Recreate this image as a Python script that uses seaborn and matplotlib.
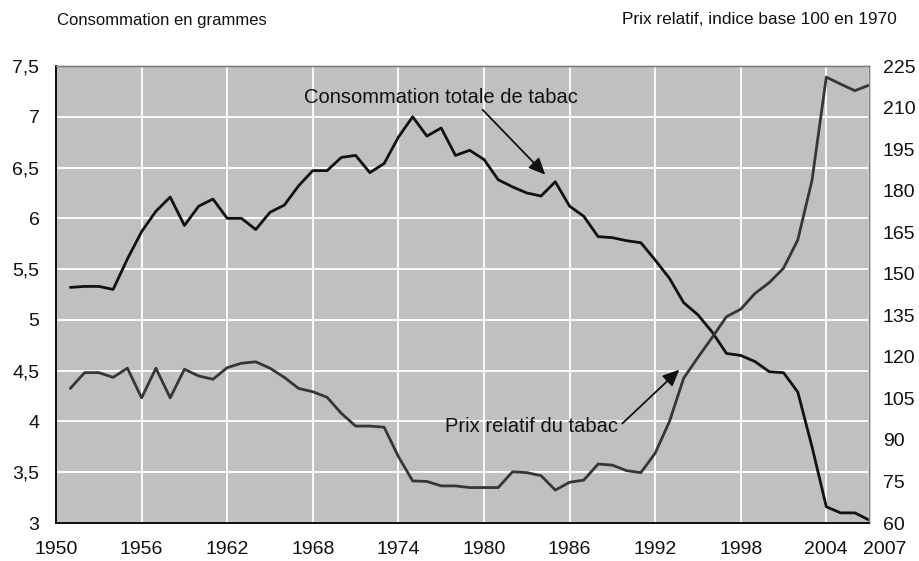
import pandas as pd
import matplotlib.pyplot as plt
import matplotlib.transforms as mtransforms
import seaborn as sns
from matplotlib.ticker import FuncFormatter

# Values
years = list(range(1951, 2008))
consommation = [
    5.32, 5.33, 5.33, 5.30, 5.60, 5.87, 6.07, 6.21, 5.93, 6.12,
    6.19, 6.00, 6.00, 5.89, 6.06, 6.13, 6.32, 6.47, 6.47, 6.60,
    6.62, 6.45, 6.54, 6.80, 7.00, 6.81, 6.89, 6.62, 6.67, 6.58,
    6.38, 6.31, 6.25, 6.22, 6.36, 6.12, 6.02, 5.82, 5.81, 5.78,
    5.76, 5.59, 5.41, 5.17, 5.05, 4.88, 4.67, 4.65, 4.59, 4.49,
    4.48, 4.29, 3.75, 3.16, 3.10, 3.10, 3.03,
]
prix_relatif = [
    108.6, 114.3, 114.3, 112.6, 115.9, 105.2, 115.9, 105.2, 115.5, 113.1,
    111.9, 116.1, 117.7, 118.2, 115.9, 112.6, 108.6, 107.4, 105.4, 99.6,
    95.0, 95.0, 94.6, 84.0, 75.2, 75.0, 73.4, 73.4, 72.8, 72.8,
    72.8, 78.5, 78.2, 77.1, 71.9, 74.7, 75.5, 81.3, 80.9, 78.9,
    78.2, 85.2, 96.6, 112.3, 119.8, 127.0, 134.5, 137.2, 142.9, 146.8,
    152.0, 162.2, 183.8, 221.0, 218.5, 216.1, 218.1,
]
x_ticks = [1950, 1956, 1962, 1968, 1974, 1980, 1986, 1992, 1998, 2004, 2007]
left_ticks = [3, 3.5, 4, 4.5, 5, 5.5, 6, 6.5, 7, 7.5]
right_ticks = [60, 75, 90, 105, 120, 135, 150, 165, 180, 195, 210, 225]

df = pd.DataFrame({"annee": years, "conso": consommation, "prix": prix_relatif})

sns.set_style("whitegrid")
plt.rcParams["font.family"] = ["Liberation Sans", "DejaVu Sans"]

fig = plt.figure(figsize=(9.19, 5.61), dpi=100)
ax = fig.add_axes([0.061, 0.0677, 0.8847, 0.8146])
ax2 = ax.twinx()

sns.lineplot(data=df, x="annee", y="conso", ax=ax, color="#111111", linewidth=2.0)
sns.lineplot(data=df, x="annee", y="prix", ax=ax2, color="#363636", linewidth=2.0)

ax.set_facecolor("#c0c0c0")
ax.set_xlim(1950, 2007)
ax.set_ylim(3, 7.5)
ax2.set_ylim(60, 225)
ax.set_xticks(x_ticks)
ax.set_yticks(left_ticks)
ax2.set_yticks(right_ticks)
ax.yaxis.set_major_formatter(FuncFormatter(lambda v, p: f"{v:g}".replace(".", ",")))
ax.grid(True, color="white", linewidth=1.3)
ax2.grid(False)
ax.set_xlabel("")
ax.set_ylabel("")
ax2.set_ylabel("")

for a in (ax, ax2):
    for side in ("top", "right"):
        a.spines[side].set_color("#808080")
        a.spines[side].set_linewidth(1.0)
    for side in ("left", "bottom"):
        a.spines[side].set_color("#111111")
        a.spines[side].set_linewidth(1.3)

ax.tick_params(axis="x", direction="in", length=4, width=1, colors="#111111",
               labelsize=14, pad=13)
ax.tick_params(axis="y", length=0, labelsize=14, pad=12, labelcolor="#111111")
ax2.tick_params(axis="y", length=0, labelsize=14, pad=10, labelcolor="#111111")

# the last year label sits a bit to the right of its tick, as in the original
last_label = ax.get_xticklabels()[-1]
last_label.set_transform(last_label.get_transform() +
                         mtransforms.ScaledTranslation(0.16, 0, fig.dpi_scale_trans))

# annotations: text placed on its own, arrow drawn from its tail to the curve
arrow = dict(arrowstyle="-|>,head_length=1.0,head_width=0.45",
             color="#111111", lw=1.3, shrinkA=0, shrinkB=0)
ax.text(1977.0, 7.19, "Consommation totale de tabac", fontsize=14.5,
        color="#111111", ha="center", va="center")
ax.annotate("", xy=(1984.3, 6.43), xytext=(1979.9, 7.07), arrowprops=arrow)
ax.text(1989.4, 3.95, "Prix relatif du tabac", fontsize=14.5,
        color="#111111", ha="right", va="center")
ax.annotate("", xy=(1993.7, 4.51), xytext=(1989.7, 3.98), arrowprops=arrow)

fig.text(57 / 919, 1 - 20 / 561, "Consommation en grammes", fontsize=12,
         color="#111111", ha="left", va="center")
fig.text(897 / 919, 1 - 20 / 561, "Prix relatif, indice base 100 en 1970", fontsize=12.4,
         color="#111111", ha="right", va="center")

fig.savefig("out.png", dpi=100)
